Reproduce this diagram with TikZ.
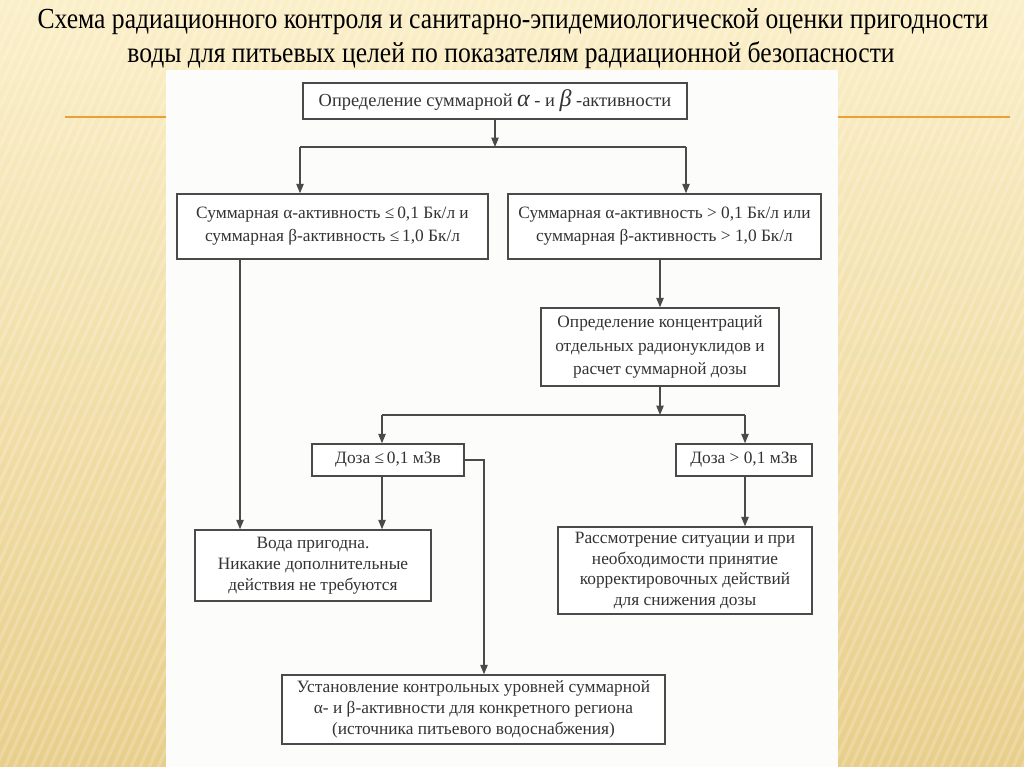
\documentclass[tikz,border=0pt]{standalone}
\usepackage{fontspec}
\setmainfont{Liberation Serif}
\usetikzlibrary{arrows.meta}
\definecolor{bgtop}{HTML}{FBEFC8}
\definecolor{bgbot}{HTML}{E8CE8A}
\definecolor{orl}{HTML}{E9A035}
\definecolor{boxc}{HTML}{4A4A4A}
\definecolor{txt}{HTML}{333333}
\definecolor{pagec}{HTML}{FCFCFB}
\begin{document}
\begin{tikzpicture}[x=0.75pt,y=-0.75pt,
  box/.style={draw=boxc, line width=1.1pt, fill=white, inner sep=0pt, text=txt, align=center,
    font=\fontsize{13}{17.3}\selectfont},
  tight/.style={font=\fontsize{13}{15.6}\selectfont},
  arr/.style={draw=boxc, line width=0.9pt, -{Triangle[length=7pt,width=5.5pt]}},
  ln/.style={draw=boxc, line width=0.9pt},
  ttl/.style={text=black, font=\fontsize{19.5}{24}\selectfont, inner sep=0pt}]
\useasboundingbox (0,0) rectangle (1024,767);
% background
\shade[top color=bgtop, bottom color=bgbot] (0,0) rectangle (1024,767);
\begin{scope}
  \clip (0,0) rectangle (1024,767);
  \foreach \i in {-400,-391,...,1030}
    \draw[white, opacity=0.2, line width=2.4pt] (\i,767) -- ({\i+350},0);
\end{scope}
% orange rules
\draw[orl, line width=1.6pt] (65,117) -- (166,117);
\draw[orl, line width=1.6pt] (838,117) -- (1010,117);
% page
\fill[pagec] (166,70) rectangle (838,767);
% title
\node[ttl] (t1) at (513,22) {\scalebox{0.985}[1.12]{Схема радиационного контроля и санитарно-эпидемиологической оценки пригодности}};
\node[ttl] (t2) at (511,55) {\scalebox{0.985}[1.12]{воды для питьевых целей по показателям радиационной безопасности}};
% boxes
\node[box, minimum width={384*0.75pt}, minimum height={36*0.75pt}, font=\fontsize{13.8}{16}\selectfont] (b1) at (495,101)
  {Определение суммарной {\fontsize{18}{16}\selectfont\itshape α} - и {\fontsize{18}{16}\selectfont\itshape β} -активности};
\node[box, minimum width={311*0.75pt}, minimum height={65*0.75pt}] (b2) at (332.5,226.5)
  {Суммарная α-активность ≤\,0,1 Бк/л и\\суммарная β-активность ≤\,1,0 Бк/л};
\node[box, minimum width={313*0.75pt}, minimum height={65*0.75pt}] (b3) at (664.5,226.5)
  {Суммарная α-активность > 0,1 Бк/л или\\суммарная β-активность > 1,0 Бк/л};
\node[box, minimum width={238*0.75pt}, minimum height={78*0.75pt}] (b4) at (660,347)
  {Определение концентраций\\отдельных радионуклидов и\\расчет суммарной дозы};
\node[box, minimum width={152*0.75pt}, minimum height={32*0.75pt}] (b6) at (388,460)
  {Доза ≤\,0,1 мЗв};
\node[box, minimum width={136*0.75pt}, minimum height={32*0.75pt}] (b7) at (744,460)
  {Доза > 0,1 мЗв};
\node[box, tight, minimum width={236*0.75pt}, minimum height={71*0.75pt}] (b5) at (313,565.5)
  {Вода пригодна.\\Никакие дополнительные\\действия не требуются};
\node[box, tight, minimum width={254*0.75pt}, minimum height={87*0.75pt}] (b8) at (685,570.5)
  {Рассмотрение ситуации и при\\необходимости принятие\\корректировочных действий\\для снижения дозы};
\node[box, tight, minimum width={383*0.75pt}, minimum height={69*0.75pt}] (b9) at (473.5,709.5)
  {Установление контрольных уровней суммарной\\α- и β-активности для конкретного региона\\(источника питьевого водоснабжения)};
% junction coordinates
\coordinate (j1) at (495,147);
\coordinate (j1l) at (300,147);
\coordinate (j1r) at (686,147);
\coordinate (c1) at (240,0);
\coordinate (j2) at (660,415);
\coordinate (j2l) at (382,415);
\coordinate (j2r) at (745,415);
\coordinate (k) at (484,460);
% connectors
\draw[arr] (b1.south) -- (j1);
\draw[ln] (j1l) -- (j1r);
\draw[arr] (j1l) -- (j1l |- b2.north);
\draw[arr] (j1r) -- (j1r |- b3.north);
\draw[arr] (b2.south -| c1) -- (b5.north -| c1);
\draw[arr] (b3.south -| b4.north) -- (b4.north);
\draw[arr] (b4.south) -- (j2);
\draw[ln] (j2l) -- (j2r);
\draw[arr] (j2l) -- (j2l |- b6.north);
\draw[arr] (j2r) -- (j2r |- b7.north);
\draw[arr] (b6.east) -- (k) -- (k |- b9.north);
\draw[arr] (j2l |- b6.south) -- (j2l |- b5.north);
\draw[arr] (j2r |- b7.south) -- (j2r |- b8.north);
\end{tikzpicture}
\end{document}
